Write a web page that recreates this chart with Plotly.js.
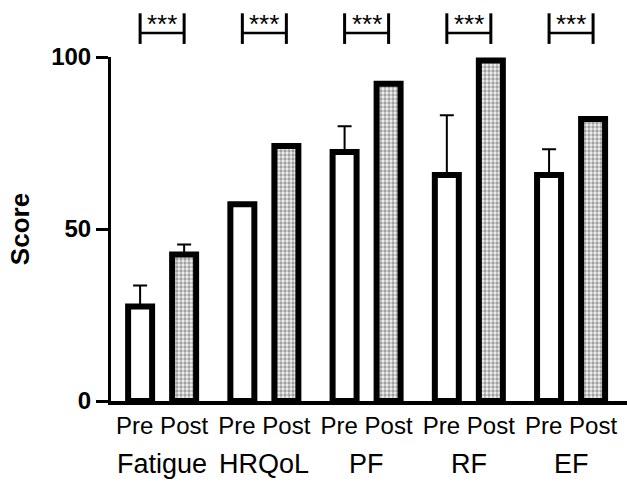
<!DOCTYPE html>
<html><head><meta charset="utf-8">
<script src="https://cdn.plot.ly/plotly-3.0.1.min.js"></script>
<style>html,body{margin:0;padding:0;background:#fff}#chart{width:627px;height:486px}</style>
</head><body><div id="chart"></div>
<script>
const categories = ['Fatigue', 'HRQoL', 'PF', 'RF', 'EF'];
const groups = ['Pre', 'Post'];
const preValues = [27.5, 57.2, 72.4, 65.7, 65.7];
const preErrors = [6.1, 0, 7.5, 17.4, 7.5];
const postValues = [42.6, 74.1, 92.2, 99.0, 82.0];
const postErrors = [2.9, 0, 0, 0, 0];
const significance = ['***', '***', '***', '***', '***'];
const yTicks = [0, 50, 100];

const FONT = "'Liberation Sans', Arial, sans-serif";
const bargap = 0.139;
const bargroupgap = 0.455;
const slot = (1 - bargap) / 2;
const half = slot / 2;

const errStyle = {type: 'data', symmetric: false, color: '#000', thickness: 2, width: 7};

const pre = {
  type: 'bar', name: groups[0], x: categories, y: preValues,
  marker: {color: '#ffffff', line: {color: '#000', width: 6}},
  error_y: Object.assign({array: preErrors, arrayminus: preErrors.map(() => 0)}, errStyle),
  hoverinfo: 'skip'
};
const post = {
  type: 'bar', name: groups[1], x: categories, y: postValues,
  marker: {color: '#ececec', line: {color: '#000', width: 6},
    pattern: {shape: '.', size: 4, solidity: 0.55, fgcolor: '#a0a0a0', bgcolor: '#f2f2f2'}},
  error_y: Object.assign({array: postErrors, arrayminus: postErrors.map(() => 0)}, errStyle),
  hoverinfo: 'skip'
};

const shapes = [];
const annotations = [];
categories.forEach((c, i) => {
  const x0 = i - half, x1 = i + half;
  [x0, x1].forEach(xx => shapes.push({type: 'line', xref: 'x', yref: 'paper',
    x0: xx, x1: xx, y0: 1.038, y1: 1.127, line: {color: '#000', width: 3}}));
  shapes.push({type: 'line', xref: 'x', yref: 'paper', x0: x0, x1: x1,
    y0: 1.0698, y1: 1.0698, line: {color: '#000', width: 2.5}});
  annotations.push({xref: 'x', yref: 'paper', x: i, y: 1.095, yanchor: 'middle',
    text: significance[i], showarrow: false, font: {family: FONT, size: 26, color: '#000'}});
  annotations.push({xref: 'x', yref: 'paper', x: i, y: -0.183, yanchor: 'middle',
    text: c, showarrow: false, font: {family: FONT, size: 27, color: '#000'}});
});

const layout = {
  width: 627, height: 486,
  margin: {l: 111, r: 0, t: 57, b: 85},
  paper_bgcolor: '#fff', plot_bgcolor: '#fff',
  barmode: 'group', bargap: bargap, bargroupgap: bargroupgap,
  showlegend: false,
  font: {family: FONT, color: '#000'},
  xaxis: {
    type: 'category', range: [-0.5, 4.547],
    tickvals: categories, ticktext: categories.map(() => groups.join(' ')),
    ticks: '', showline: true, linecolor: '#000', linewidth: 4,
    showgrid: false, zeroline: false,
    tickfont: {family: FONT, size: 24, color: '#000'}, ticklabelstandoff: 0
  },
  yaxis: {
    range: [0, 100], tickvals: yTicks, ticks: 'outside', ticklen: 12, tickwidth: 3,
    tickcolor: '#000', showline: true, linecolor: '#000', linewidth: 3,
    showgrid: false, zeroline: false,
    tickfont: {family: FONT, size: 24, color: '#000', weight: 700},
    title: {text: 'Score', standoff: 15, font: {family: FONT, size: 26, color: '#000', weight: 700}}
  },
  shapes: shapes, annotations: annotations
};

Plotly.newPlot('chart', [pre, post], layout, {displayModeBar: false, staticPlot: true});
</script></body></html>
